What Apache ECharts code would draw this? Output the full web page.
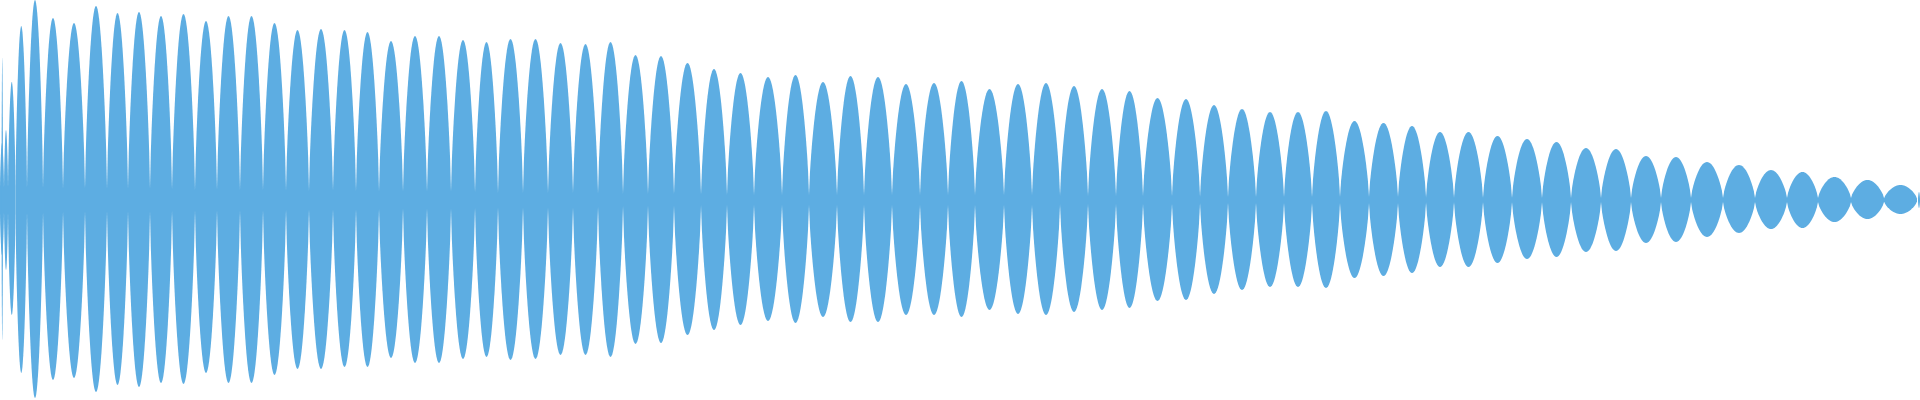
<!DOCTYPE html>
<html>
<head>
<meta charset="utf-8">
<style>
  html, body { margin: 0; padding: 0; background: #ffffff; }
  #chart { width: 1920px; height: 400px; }
</style>
<script src="https://cdn.jsdelivr.net/npm/echarts@6/dist/echarts.min.js"></script>
</head>
<body>
<div id="chart"></div>
<script>
// Each lobe of the waveform envelope: start / end position, upper and lower peak amplitude,
// and the residual half-thickness at its ends.
var lobeStart = [0, 1.5, 4, 8, 15.5, 27, 43, 63, 85, 107, 128, 150, 172, 195, 217,
  240, 263, 286, 309, 333, 356, 379, 403, 427, 451,
  475, 498, 523, 548, 573, 598, 623, 648, 674, 701,
  727, 754, 782, 809, 837, 864, 892, 920,
  948, 975, 1004, 1032, 1060, 1088, 1116, 1143, 1172,
  1200, 1228, 1256, 1284, 1312, 1340, 1369, 1398,
  1426, 1454, 1483, 1512, 1542, 1571, 1601, 1631, 1661,
  1691, 1723, 1755, 1787, 1818, 1851, 1884, 1918];
var lobeEnd = [4, 3, 8, 15.5, 27, 43, 63, 85, 107, 128, 150, 172, 195, 217, 240,
  263, 286, 309, 333, 356, 379, 403, 427, 451, 475,
  498, 523, 548, 573, 598, 623, 648, 674, 701, 727,
  754, 782, 809, 837, 864, 892, 920, 948,
  975, 1004, 1032, 1060, 1088, 1116, 1143, 1172, 1200,
  1228, 1256, 1284, 1312, 1340, 1369, 1398, 1426,
  1454, 1483, 1512, 1542, 1571, 1601, 1631, 1661, 1691,
  1723, 1755, 1787, 1818, 1851, 1884, 1917, 1920];
var ampUp = [57, 142, 70, 118, 174, 200, 182, 177, 194, 187, 188, 184, 186, 179, 184,
  184, 177, 170, 171, 170, 168, 159, 164, 164, 160,
  158, 161, 161, 157, 156, 158, 145, 144, 137, 131,
  127, 123, 125, 118, 124, 123, 116, 117,
  119, 111, 116, 117, 114, 111, 109, 102, 101,
  95, 91, 88, 88, 89, 79, 77, 74,
  68, 68, 64, 61, 58, 52, 51, 44, 43,
  38, 35, 30, 28, 23, 20, 15, 8];
var ampDown = [55, 140, 70, 115, 173, 198, 180, 178, 192, 185, 187, 183, 184, 173, 183,
  183, 175, 169, 169, 167, 167, 158, 163, 163, 159,
  157, 160, 159, 155, 155, 157, 144, 143, 135, 130,
  125, 121, 123, 117, 122, 122, 115, 115,
  117, 110, 114, 115, 112, 110, 108, 101, 100,
  94, 90, 87, 87, 88, 78, 76, 73,
  67, 67, 63, 59, 57, 52, 51, 43, 42,
  37, 33, 29, 28, 22, 19, 14, 8];
var lobeFloor = [12, 12, 12, 12, 12, 12, 12, 11, 11, 11, 11, 11, 10, 10, 10,
  10, 10, 9, 9, 9, 9, 8, 8, 8, 8,
  7, 7, 7, 7, 7, 6, 6, 6, 6, 5,
  5, 5, 5, 5, 5, 5, 5, 5,
  5, 5, 5, 5, 4, 4, 4, 4, 4,
  3, 3, 3, 3, 3, 3, 3, 3,
  2, 2, 2, 2, 2, 2, 2, 2, 2,
  2, 2, 2, 2, 2, 2, 1.5, 1];

var lobeColor = '#5DADE2';

var lobes = lobeStart.map(function (s, i) {
  return [s, lobeEnd[i], ampUp[i], -ampDown[i], lobeFloor[i]];
});

// glyph outline of one lobe (rounded belly, pointed tips)
var STEPS = 28;
function renderLobe(params, api) {
  var x0 = api.value(0), x1 = api.value(1);
  var up = api.value(2), down = api.value(3), f = api.value(4);
  var w = x1 - x0;
  var pts = [];
  var i, t, s;
  for (i = 0; i <= STEPS; i++) {
    t = i / STEPS;
    s = Math.pow(Math.sin(Math.PI * t), 0.72);
    pts.push(api.coord([x0 + w * t, f + (up - f) * s]));
  }
  for (i = STEPS; i >= 0; i--) {
    t = i / STEPS;
    s = Math.pow(Math.sin(Math.PI * t), 0.72);
    pts.push(api.coord([x0 + w * t, -f + (down + f) * s]));
  }
  return {
    type: 'polygon',
    shape: { points: pts },
    style: { fill: lobeColor, stroke: null }
  };
}

var chart = echarts.init(document.getElementById('chart'), null, { renderer: 'canvas' });
chart.setOption({
  animation: false,
  backgroundColor: '#ffffff',
  grid: { left: 0, right: 0, top: 0, bottom: 0 },
  xAxis: { type: 'value', min: 0, max: 1920, show: false },
  yAxis: { type: 'value', min: -200, max: 200, show: false },
  series: [{
    type: 'custom',
    renderItem: renderLobe,
    encode: { x: [0, 1], y: [2, 3] },
    clip: true,
    data: lobes
  }]
});
</script>
</body>
</html>
